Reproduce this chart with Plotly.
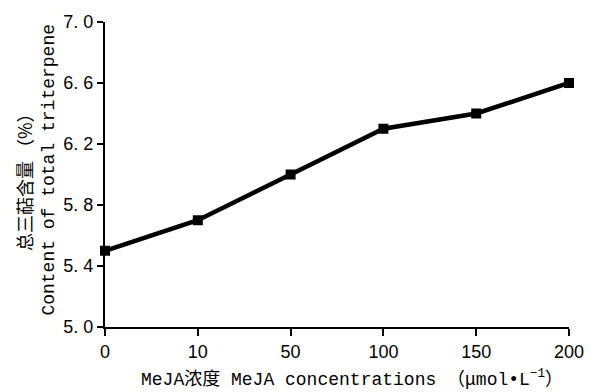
import plotly.graph_objects as go

categories = ["0", "10", "50", "100", "150", "200"]
triterpene = [5.5, 5.7, 6.0, 6.3, 6.4, 6.6]
y_ticks = [5.0, 5.4, 5.8, 6.2, 6.6, 7.0]
y_tick_text = ["5. 0", "5. 4", "5. 8", "6. 2", "6. 6", "7. 0"]

MONO = "Liberation Mono, Noto Sans CJK SC, monospace"
CJK = "Noto Sans CJK SC, sans-serif"
TICKF = dict(size=18, family="Liberation Sans, Arial, sans-serif", color="black")

fig = go.Figure()
fig.add_trace(go.Scatter(
    x=categories, y=triterpene, mode="lines+markers",
    line=dict(color="black", width=4.5),
    marker=dict(symbol="square", size=10, color="black"),
    cliponaxis=False, showlegend=False,
))

fig.update_layout(
    width=596, height=392,
    margin=dict(l=105, r=13, t=18, b=65),
    paper_bgcolor="white", plot_bgcolor="white",
    font=dict(family=MONO, color="black"),
    xaxis=dict(
        type="category", range=[0, 5],
        showline=True, linecolor="black", linewidth=2,
        ticks="outside", ticklen=7, tickwidth=2, tickcolor="black",
        showgrid=False, zeroline=False, tickfont=TICKF,
    ),
    yaxis=dict(
        range=[5.0, 7.0], tickvals=y_ticks, ticktext=y_tick_text,
        showline=True, linecolor="black", linewidth=2,
        ticks="outside", ticklen=6, tickwidth=2, tickcolor="black",
        showgrid=False, zeroline=False, tickfont=TICKF,
    ),
    annotations=[
        dict(text="总三萜含量 （%）", xref="paper", yref="paper",
             x=(21 - 105) / 478, y=0.49, textangle=-90, showarrow=False,
             font=dict(size=18, family=CJK), xanchor="center", yanchor="middle"),
        dict(text="Content of total triterpene", xref="paper", yref="paper",
             x=(47 - 105) / 478, y=0.515, textangle=-90, showarrow=False,
             font=dict(size=18, family=MONO), xanchor="center", yanchor="middle"),
        dict(text="MeJA浓度 MeJA concentrations （μmol•L<sup>−1</sup>）",
             xref="paper", yref="paper", x=0.532, y=-(379 - 327) / 309,
             showarrow=False, font=dict(size=18, family=MONO),
             xanchor="center", yanchor="middle"),
    ],
)

fig.write_html("out.html", config={"displayModeBar": False},
               post_script="document.body.style.margin='0';")
